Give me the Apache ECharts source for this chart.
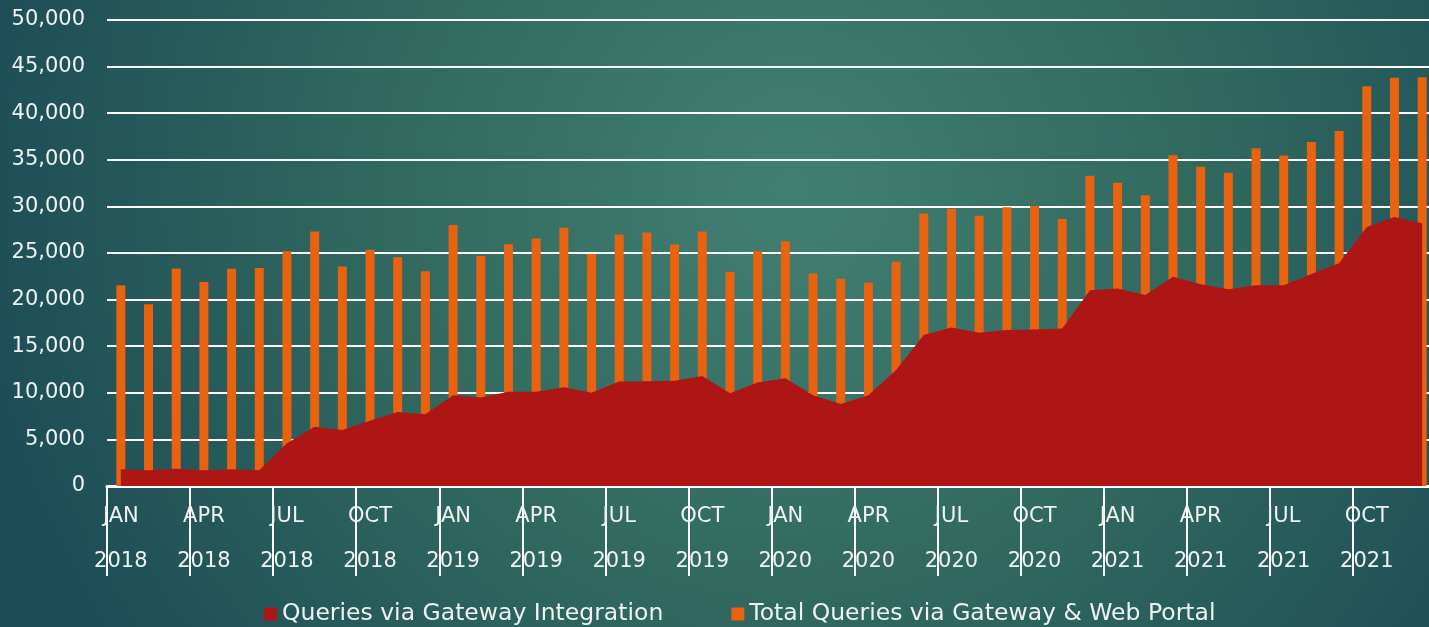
<!DOCTYPE html>
<html>
<head>
<meta charset="utf-8">
<script src="https://cdn.jsdelivr.net/npm/echarts@6/dist/echarts.min.js"></script>
<style>
  html, body { margin: 0; padding: 0; overflow: hidden; }
  /* a little wider than the window: the plot runs off the right edge like the original slide */
  #chart { width: 1440px; height: 627px; }
</style>
</head>
<body>
<div id="chart"></div>
<script>
const months = [
  'JAN 2018', 'FEB 2018', 'MAR 2018', 'APR 2018', 'MAY 2018', 'JUN 2018',
  'JUL 2018', 'AUG 2018', 'SEP 2018', 'OCT 2018', 'NOV 2018', 'DEC 2018',
  'JAN 2019', 'FEB 2019', 'MAR 2019', 'APR 2019', 'MAY 2019', 'JUN 2019',
  'JUL 2019', 'AUG 2019', 'SEP 2019', 'OCT 2019', 'NOV 2019', 'DEC 2019',
  'JAN 2020', 'FEB 2020', 'MAR 2020', 'APR 2020', 'MAY 2020', 'JUN 2020',
  'JUL 2020', 'AUG 2020', 'SEP 2020', 'OCT 2020', 'NOV 2020', 'DEC 2020',
  'JAN 2021', 'FEB 2021', 'MAR 2021', 'APR 2021', 'MAY 2021', 'JUN 2021',
  'JUL 2021', 'AUG 2021', 'SEP 2021', 'OCT 2021', 'NOV 2021', 'DEC 2021'
]

// queries via gateway integration (area)
const gatewayQueries = [
  1800, 1700, 1850, 1700, 1800, 1700, 4600, 6350, 6000, 7000, 7950, 7700,
  9750, 9500, 10100, 10100, 10600, 10000, 11200, 11250, 11300, 11800, 9950, 11100,
  11550, 9750, 8800, 9750, 12450, 16200, 17000, 16450, 16750, 16800, 16900, 21000,
  21200, 20500, 22450, 21650, 21100, 21550, 21550, 22750, 23900, 27800, 28850, 28200
]

// total queries via gateway & web portal (bars)
const totalQueries = [
  21550, 19500, 23350, 21900, 23300, 23400, 25200, 27300, 23550, 25350, 24550, 23050,
  28000, 24700, 25950, 26550, 27700, 24900, 26950, 27200, 25900, 27300, 22950, 25200,
  26250, 22800, 22250, 21800, 24050, 29250, 29750, 29000, 29900, 30050, 28650, 33300,
  32550, 31200, 35500, 34250, 33600, 36250, 35450, 36900, 38100, 42900, 43800, 43850
]

const yTicks = [0, 5000, 10000, 15000, 20000, 25000, 30000, 35000, 40000, 45000, 50000]

const font = '"DejaVu Sans", "Noto Sans", sans-serif'
const textColor = '#eef2f0'

const chart = echarts.init(document.getElementById('chart'))

chart.setOption({
  animation: false,
  backgroundColor: {
    type: 'radial', x: 0.55, y: 0.3, r: 1.3,
    colorStops: [
      { offset: 0, color: '#427f73' },
      { offset: 0.5, color: '#31695f' },
      { offset: 1, color: '#1e4d57' }
    ]
  },
  grid: { left: 107, top: 20, width: 1329, height: 466 },
  legend: {
    left: 264, top: 602, padding: 0,
    icon: 'rect', itemWidth: 13, itemHeight: 13, itemGap: 68,
    textStyle: { color: textColor, fontSize: 23.5, fontFamily: font }
  },
  xAxis: {
    type: 'category', data: months, boundaryGap: true,
    axisLine: { lineStyle: { color: '#ffffff', width: 3 } },
    axisTick: { show: true, interval: 2, length: 90, lineStyle: { color: '#ffffff', width: 2 } },
    axisLabel: {
      interval: 2, margin: 8, lineHeight: 45,
      color: textColor, fontSize: 21, fontFamily: font,
      formatter: v => v.replace(' ', '\n')
    }
  },
  yAxis: {
    type: 'value', min: yTicks[0], max: yTicks[yTicks.length - 1], interval: 5000,
    axisLine: { show: false },
    axisTick: { show: false },
    axisLabel: {
      margin: 22, color: textColor, fontSize: 21, fontFamily: font,
      formatter: v => v.toLocaleString('en-US')
    },
    splitLine: { lineStyle: { color: '#ffffff', width: 2 } }
  },
  series: [
    {
      name: 'Queries via Gateway Integration',
      type: 'line', data: gatewayQueries,
      symbol: 'none',
      itemStyle: { color: '#ae1515' },
      lineStyle: { width: 0, color: '#ae1515' },
      areaStyle: { color: '#ae1515', opacity: 1 }
    },
    {
      name: 'Total Queries via Gateway & Web Portal',
      type: 'bar', data: totalQueries,
      barWidth: 9,
      itemStyle: { color: '#e8620f' }
    }
  ]
})
</script>
</body>
</html>
